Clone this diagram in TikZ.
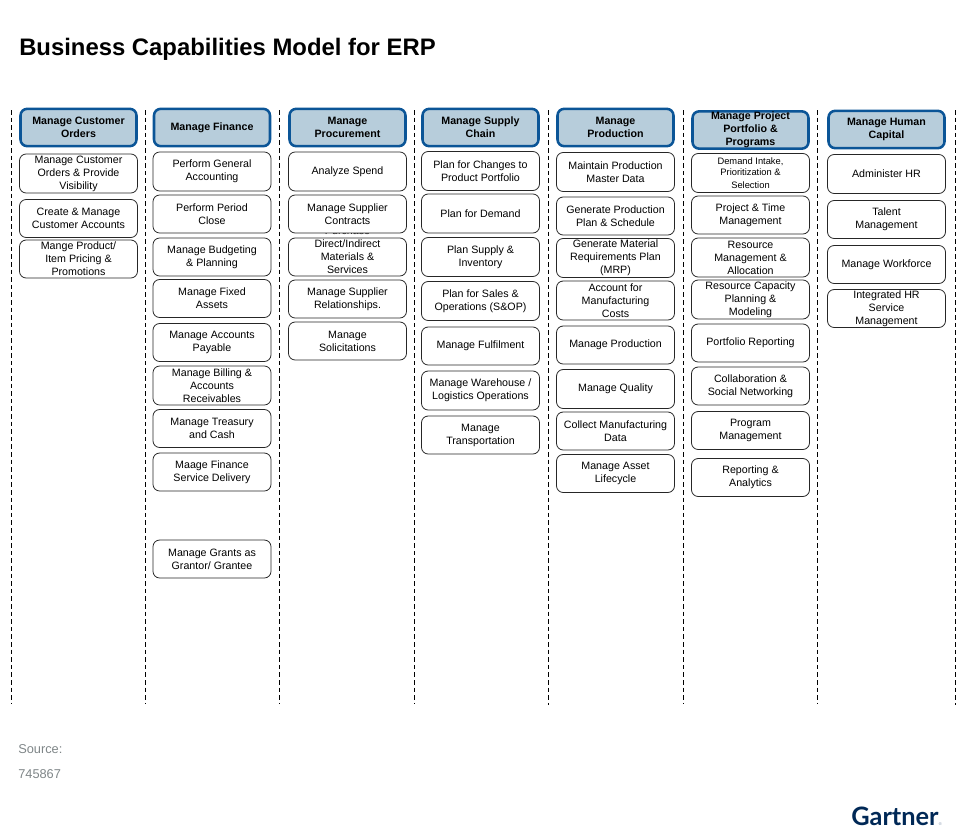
\documentclass[tikz,border=0pt]{standalone}
\usepackage{fontspec}
\setmainfont{Liberation Sans}
\newfontfamily\logofont{Lato}
\definecolor{headfill}{HTML}{B7CDDB}
\definecolor{headline}{HTML}{0B5597}
\definecolor{srcgray}{HTML}{7F8688}
\definecolor{logoblue}{HTML}{002856}
\begin{document}
\begin{tikzpicture}[x=0.75pt,y=-0.75pt,line join=round]
 \def \top{110}
 \def \smalltxt{\fontsize{7}{8.4}\selectfont}
 \tikzset{head box/.style={draw=headline,fill=headfill,line width=1.9pt,rounded corners=5pt,minimum width=87pt,minimum height=28pt,inner xsep=0pt,inner ysep=-14pt,align=center,font=\fontsize{8}{9.75}\selectfont\bfseries}}
 \tikzset{sub box/.style={draw=black!85,fill=white,line width=.6pt,rounded corners=5pt,minimum width=88.5pt,inner xsep=0pt,inner ysep=-14pt,align=center,font=\fontsize{8}{9.75}\selectfont}}
 \tikzset{sep line/.style={line width=.75pt,dash pattern=on 3.4pt off 2.3pt}}
 \useasboundingbox (0,0) rectangle (960,836);
 \node[anchor=base west,inner sep=0pt,font=\fontsize{17.9}{20}\selectfont\bfseries] (title) at (19,55) {Business Capabilities Model for ERP};
 \foreach \nm/\xx/\yend in {a/11.5/703,b/145.5/703,c/279.5/703,d/414.5/703,e/548.5/705,f/683.5/703,g/817.5/703,h/955.5/705}{
  \coordinate (\nm top) at (\xx,\top);
  \coordinate (\nm bot) at (\xx,\yend);
  \draw[sep line] (\nm top)--(\nm bot);
 }
 \foreach \nm/\xx/\yy/\txt in {
  orders/78.5/127.5/{Manage Customer\\Orders},
  finance/212/127.5/{Manage Finance},
  procure/347.5/127.5/{Manage\\Procurement},
  supply/480.5/127.5/{Manage Supply\\Chain},
  production/615.5/127.5/{Manage\\Production},
  portfolio/750.5/130/{Manage Project\\Portfolio \&\\Programs},
  human/886.5/129.5/{Manage Human\\Capital}}
  \node[head box] (\nm) at (\xx,\yy) {\txt};
 \foreach \nm/\xx/\yy/\hh/\txt in {
  ordersa/78.5/173.5/39/{Manage Customer\\Orders \& Provide\\Visibility},
  ordersb/78.5/218.5/38/{Create \& Manage\\Customer Accounts},
  ordersc/78.5/259/38/{Mange Product/\\Item Pricing \&\\Promotions},
  financea/212/171.5/39/{Perform General\\Accounting},
  financeb/212/214/38/{Perform Period\\Close},
  financec/212/257/38/{Manage Budgeting\\\& Planning},
  financed/212/298.5/38/{Manage Fixed\\Assets},
  financee/212/342.5/38/{Manage Accounts\\Payable},
  financef/212/385.5/39/{Manage Billing \&\\Accounts\\Receivables},
  financeg/212/428.5/38/{Manage Treasury\\and Cash},
  financeh/212/472/38/{Maage Finance\\Service Delivery},
  financei/212/559/38/{Manage Grants as\\Grantor/ Grantee},
  procurea/347.5/171.5/39/{Analyze Spend},
  procurec/347.5/257/38/{Purchase\\Direct/Indirect\\Materials \&\\Services\\[1pt]\mbox{}},
  procureb/347.5/214/38/{Manage Supplier\\Contracts},
  procured/347.5/299/38/{Manage Supplier\\Relationships.},
  procuree/347.5/341/38/{Manage\\Solicitations},
  supplya/480.5/171/39/{Plan for Changes to\\Product Portfolio},
  supplyb/480.5/213.5/39/{Plan for Demand},
  supplyc/480.5/257/39/{Plan Supply \&\\Inventory},
  supplyd/480.5/301/39/{Plan for Sales \&\\Operations (S\&OP)},
  supplye/480.5/346/38/{Manage Fulfilment},
  supplyf/480.5/390.5/39/{Manage Warehouse /\\Logistics Operations},
  supplyg/480.5/435/38/{Manage\\Transportation},
  productiona/615.5/172/39/{Maintain Production\\Master Data},
  productionb/615.5/216/38/{Generate Production\\Plan \& Schedule},
  productionc/615.5/258/39/{Generate Material\\Requirements Plan\\(MRP)},
  productiond/615.5/300.5/39/{Account for\\Manufacturing\\Costs},
  productione/615.5/345/38/{Manage  Production},
  productionf/615.5/389/39/{Manage Quality},
  productiong/615.5/431/38/{Collect Manufacturing\\Data},
  productionh/615.5/473.5/38/{Manage Asset\\Lifecycle},
  portfolioa/750.5/173/39/{\smalltxt Demand Intake,\\[-1.5pt]\smalltxt Prioritization \&\\\smalltxt Selection},
  portfoliob/750.5/215/38/{Project \& Time\\Management},
  portfolioc/750.5/257.5/39/{Resource\\Management \&\\Allocation},
  portfoliod/750.5/299.5/39/{Resource Capacity\\Planning \&\\Modeling},
  portfolioe/750.5/343/38/{Portfolio Reporting},
  portfoliof/750.5/386/38/{Collaboration \&\\Social Networking},
  portfoliog/750.5/430.5/38/{Program\\Management},
  portfolioh/750.5/477.5/38/{Reporting \&\\Analytics},
  humana/886.5/174/39/{Administer HR},
  humanb/886.5/219.5/38/{Talent\\Management},
  humanc/886.5/264.5/38/{Manage Workforce},
  humand/886.5/308.5/38/{Integrated HR\\Service\\Management}}
  \node[sub box,minimum height=\hh*0.75pt] (\nm) at (\xx,\yy) {\txt};
 \node[anchor=base west,inner sep=0pt,text=srcgray,font=\fontsize{9.6}{11}\selectfont] (source) at (18,753.5) {Source:};
 \node[anchor=base west,inner sep=0pt,text=srcgray,font=\fontsize{9.6}{11}\selectfont] (docnum) at (18,778) {745867};
 \node[anchor=base west,inner sep=0pt,text=logoblue,font=\logofont\fontsize{19}{24}\selectfont\bfseries] (logo) at (851,825.7) {Gartner};
 \node[anchor=base west,inner sep=0pt,text=logoblue!50,font=\fontsize{3}{4}\selectfont] (logomark) at (938.5,825.7) {®};
\end{tikzpicture}
\end{document}
